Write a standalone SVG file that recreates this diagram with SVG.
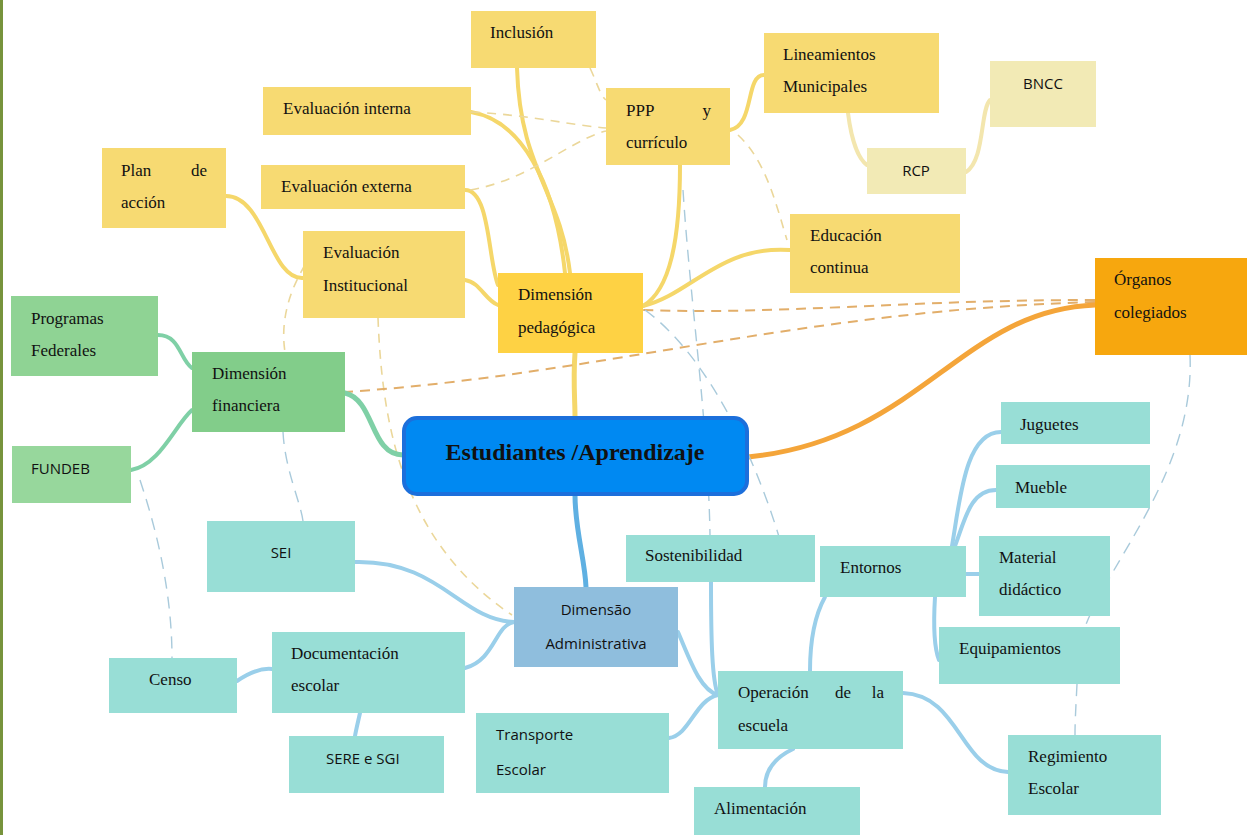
<svg xmlns="http://www.w3.org/2000/svg" width="1249" height="835" viewBox="0 0 1249 835">
<style>
.s{font-family:"Liberation Serif","Times New Roman",serif;font-size:17px;fill:#111}
.a{font-family:"Open Sans","Liberation Sans",Arial,sans-serif;font-size:15px;fill:#111}
.y{fill:#F7DA72}
.yl{fill:#F2EAB5}
.g{fill:#8FD394}
.t{fill:#98DED6}
.cy{fill:none;stroke:#F5D76A;stroke-width:4;stroke-linecap:round}
.cyp{fill:none;stroke:#F3E6AE;stroke-width:4;stroke-linecap:round}
.dy{fill:none;stroke:#EBD79A;stroke-width:1.6;stroke-dasharray:9 7}
.do{fill:none;stroke:#E2AE6A;stroke-width:2;stroke-dasharray:10 7}
.cg{fill:none;stroke:#7FD0A6;stroke-width:4;stroke-linecap:round}
.cb{fill:none;stroke:#9ACFEA;stroke-width:4;stroke-linecap:round}
.db{fill:none;stroke:#A9CADB;stroke-width:1.4;stroke-dasharray:12 8}
</style>
<rect x="0" y="0" width="1249" height="835" fill="#fff"/>
<rect x="0" y="0" width="3" height="835" fill="#77933C"/>
<g id="connectors">
<path class="cy" d="M517,68 C520,170 560,190 570,273"/>
<path class="cy" d="M471,112 C520,120 555,180 565,273"/>
<path class="cy" d="M465,190 C490,190 488,260 498,285"/>
<path class="cy" d="M465,280 C480,282 485,300 498,305"/>
<path class="cy" d="M226,196 C265,196 270,280 303,278"/>
<path class="cy" d="M680,165 C680,240 670,290 643,306"/>
<path class="cy" d="M790,250 C720,245 690,295 643,306"/>
<path class="cy" d="M730,130 C755,125 745,75 764,75"/>
<path class="cy" d="M575,353 C573,380 575,400 575,417" style="stroke-width:5"/>
<path class="cyp" d="M848,113 C852,145 860,160 867,165"/>
<path class="cyp" d="M966,172 C985,160 980,110 990,100"/>
<path class="dy" d="M590,68 C598,85 600,95 606,100"/>
<path class="dy" d="M471,112 C530,115 570,125 606,128"/>
<path class="dy" d="M470,190 C530,180 570,140 606,131"/>
<path class="dy" d="M738,135 C765,160 775,200 787,240"/>
<path class="dy" d="M305,265 C290,290 280,320 285,352"/>
<path class="dy" d="M378,318 C382,420 400,540 512,615"/>
<path class="do" d="M1095,300 C900,300 780,315 643,310"/>
<path class="do" d="M1095,302 C800,310 600,375 345,392"/>
<path fill="none" stroke="#F4A53A" stroke-width="5" stroke-linecap="round" d="M748,457 C920,440 960,310 1095,305"/>
<path class="cg" d="M158,335 C180,335 180,360 192,368"/>
<path class="cg" d="M131,470 C160,465 175,425 192,410"/>
<path class="cg" d="M345,393 C375,400 370,455 403,455" style="stroke-width:5"/>
<path fill="none" stroke="#5FB0E2" stroke-width="5" d="M575,495 C575,530 585,560 586,587"/>
<path class="cb" d="M355,562 C440,560 460,620 514,622"/>
<path class="cb" d="M465,668 C495,660 495,625 514,622"/>
<path class="cb" d="M237,681 C250,672 262,668 272,669"/>
<path class="cb" d="M360,713 C358,722 356,730 355,736"/>
<path class="cb" d="M678,632 C690,660 700,690 718,695"/>
<path class="cb" d="M711,582 C711,640 712,680 718,695"/>
<path class="cb" d="M669,738 C690,735 695,700 718,695"/>
<path class="cb" d="M793,749 C770,760 765,775 765,787"/>
<path class="cb" d="M903,693 C960,695 960,770 1008,772"/>
<path class="cb" d="M810,671 C810,640 815,615 825,597"/>
<path class="cb" d="M952,546 C960,500 965,432 1001,432"/>
<path class="cb" d="M955,546 C965,520 970,490 996,490"/>
<path class="cb" d="M966,574 L979,574"/>
<path class="cb" d="M935,597 C933,630 935,650 939,660"/>
<path class="db" d="M140,480 C160,540 172,600 172,658"/>
<path class="db" d="M283,432 C285,470 300,500 303,521"/>
<path class="db" d="M683,190 C690,300 708,420 710,535"/>
<path class="db" d="M645,310 C700,350 750,440 780,540"/>
<path class="db" d="M1190,355 C1195,470 1110,560 1085,627 M1077,684 C1076,705 1075,720 1075,735"/>
</g>
<g id="inclusion"><rect class="y" x="471" y="11" width="125" height="57"/><text class="s" x="490" y="38">Inclusión</text></g>
<g id="eval-interna"><rect class="y" x="263" y="87" width="208" height="48"/><text class="s" x="283" y="114">Evaluación interna</text></g>
<g id="ppp"><rect class="y" x="606" y="88" width="124" height="77"/><text class="s" x="626" y="116">PPP</text><text class="s" x="711" y="116" text-anchor="end">y</text><text class="s" x="626" y="148">currículo</text></g>
<g id="lineamientos"><rect class="y" x="764" y="33" width="175" height="80"/><text class="s" x="783" y="60">Lineamientos</text><text class="s" x="783" y="92">Municipales</text></g>
<g id="bncc"><rect class="yl" x="990" y="61" width="106" height="66"/><text class="a" x="1043" y="89" text-anchor="middle">BNCC</text></g>
<g id="rcp"><rect class="yl" x="867" y="148" width="99" height="46"/><text class="a" x="916" y="176" text-anchor="middle">RCP</text></g>
<g id="plan"><rect class="y" x="102" y="148" width="124" height="80"/><text class="s" x="121" y="176">Plan</text><text class="s" x="207" y="176" text-anchor="end">de</text><text class="s" x="121" y="208">acción</text></g>
<g id="eval-externa"><rect class="y" x="261" y="165" width="204" height="44"/><text class="s" x="281" y="192">Evaluación externa</text></g>
<g id="eval-inst"><rect class="y" x="303" y="231" width="162" height="87"/><text class="s" x="323" y="258">Evaluación</text><text class="s" x="323" y="291">Institucional</text></g>
<g id="dim-ped"><rect fill="#FED244" x="498" y="273" width="145" height="80"/><text class="s" x="518" y="300">Dimensión</text><text class="s" x="518" y="333">pedagógica</text></g>
<g id="educacion"><rect class="y" x="790" y="214" width="170" height="79"/><text class="s" x="810" y="241">Educación</text><text class="s" x="810" y="273">continua</text></g>
<g id="organos"><rect fill="#F7A70E" x="1095" y="258" width="152" height="97"/><text class="s" x="1114" y="285">Órganos</text><text class="s" x="1114" y="318">colegiados</text></g>
<g id="programas"><rect class="g" x="11" y="296" width="147" height="80"/><text class="s" x="31" y="324">Programas</text><text class="s" x="31" y="356">Federales</text></g>
<g id="dim-fin"><rect fill="#82CD8A" x="192" y="352" width="153" height="80"/><text class="s" x="212" y="379">Dimensión</text><text class="s" x="212" y="411">financiera</text></g>
<g id="fundeb"><rect fill="#97D79C" x="12" y="446" width="119" height="57"/><text class="a" x="31" y="474">FUNDEB</text></g>
<g id="estudiantes"><rect fill="#0089F2" stroke="#1C6FDB" stroke-width="4" x="404" y="418" width="343" height="76" rx="13"/><text x="575" y="460" text-anchor="middle" style="font-family:'Liberation Serif','Times New Roman',serif;font-size:24px;font-weight:bold;fill:#111">Estudiantes /Aprendizaje</text></g>
<g id="sei"><rect class="t" x="207" y="521" width="148" height="71"/><text class="a" x="281" y="558" text-anchor="middle">SEI</text></g>
<g id="sostenibilidad"><rect class="t" x="626" y="535" width="189" height="47"/><text class="s" x="645" y="561">Sostenibilidad</text></g>
<g id="entornos"><rect class="t" x="820" y="546" width="146" height="51"/><text class="s" x="840" y="573">Entornos</text></g>
<g id="juguetes"><rect class="t" x="1001" y="402" width="149" height="42"/><text class="s" x="1020" y="430">Juguetes</text></g>
<g id="mueble"><rect class="t" x="996" y="465" width="154" height="43"/><text class="s" x="1015" y="493">Mueble</text></g>
<g id="material"><rect class="t" x="979" y="536" width="131" height="80"/><text class="s" x="999" y="563">Material</text><text class="s" x="999" y="595">didáctico</text></g>
<g id="equipamientos"><rect class="t" x="939" y="627" width="181" height="57"/><text class="s" x="959" y="654">Equipamientos</text></g>
<g id="dim-admin"><rect fill="#8FBEDD" x="514" y="587" width="164" height="80"/><text class="a" x="596" y="615" text-anchor="middle">Dimensão</text><text class="a" x="596" y="649" text-anchor="middle">Administrativa</text></g>
<g id="documentacion"><rect class="t" x="272" y="632" width="193" height="81"/><text class="s" x="291" y="659">Documentación</text><text class="s" x="291" y="691">escolar</text></g>
<g id="censo"><rect class="t" x="109" y="658" width="128" height="55"/><text class="s" x="149" y="685">Censo</text></g>
<g id="sere"><rect class="t" x="289" y="736" width="155" height="57"/><text class="a" x="326" y="764">SERE e SGI</text></g>
<g id="transporte"><rect class="t" x="476" y="713" width="193" height="80"/><text class="a" x="496" y="740">Transporte</text><text class="a" x="496" y="775">Escolar</text></g>
<g id="operacion"><rect class="t" x="718" y="671" width="185" height="78"/><text class="s" x="738" y="698">Operación</text><text class="s" x="835" y="698">de</text><text class="s" x="884" y="698" text-anchor="end">la</text><text class="s" x="738" y="731">escuela</text></g>
<g id="alimentacion"><rect class="t" x="694" y="787" width="166" height="48"/><text class="s" x="714" y="814">Alimentación</text></g>
<g id="regimiento"><rect class="t" x="1008" y="735" width="153" height="80"/><text class="s" x="1028" y="762">Regimiento</text><text class="s" x="1028" y="794">Escolar</text></g>
</svg>
